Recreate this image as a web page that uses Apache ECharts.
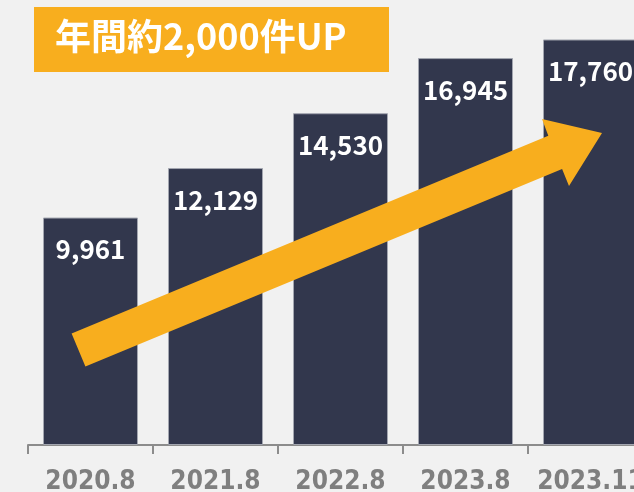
<!DOCTYPE html>
<html>
<head>
<meta charset="utf-8">
<script src="https://cdn.jsdelivr.net/npm/echarts@6/dist/echarts.min.js"></script>
<style>
  html, body { margin: 0; padding: 0; background: #f1f1f1; }
  #chart { width: 634px; height: 492px; }
</style>
</head>
<body>
<div id="chart"></div>
<script>
const periods = ['2020.8', '2021.8', '2022.8', '2023.8', '2023.11']
const counts = [9961, 12129, 14530, 16945, 17760]
const headline = '年間約2,000件UP'

const chart = echarts.init(document.getElementById('chart'))

// arrow outline (decoration only, not data)
const arrowPoints = [
  [71.6, 333.4], [548.3, 135.8], [542, 119], [602, 133],
  [569, 186], [562.1, 169], [85.4, 366.6]
]

chart.setOption({
  backgroundColor: '#f1f1f1',
  animation: false,
  grid: { left: 28, top: 34, width: 625, bottom: 47, outerBoundsMode: 'none', containLabel: false },
  xAxis: {
    type: 'category',
    data: periods,
    axisLine: { lineStyle: { color: '#8c8c8c', width: 2 } },
    axisTick: { show: true, length: 9, lineStyle: { color: '#8c8c8c', width: 2 } },
    axisLabel: {
      interval: 0,
      hideOverlap: false,
      color: '#7f7f7f',
      fontSize: 26,
      fontWeight: 'bold',
      fontFamily: "'DejaVu Sans Condensed', 'Liberation Sans Narrow', sans-serif",
      margin: 24
    }
  },
  yAxis: {
    type: 'value',
    min: 0,
    max: 18000,
    show: false
  },
  series: [
    {
      type: 'bar',
      data: counts,
      barWidth: 95,
      itemStyle: { color: '#32374d', borderColor: '#a3a6b0', borderWidth: 1 },
      label: {
        show: true,
        position: 'insideTop',
        distance: 19,
        color: '#ffffff',
        fontSize: 26,
        fontWeight: 'bold',
        fontFamily: "'Noto Sans CJK JP', sans-serif",
        formatter: p => p.value.toLocaleString('en-US')
      }
    }
  ],
  graphic: [
    {
      type: 'polygon',
      z: 100,
      shape: { points: arrowPoints },
      style: { fill: '#f8ae1e' }
    },
    {
      type: 'rect',
      left: 34,
      top: 7,
      z: 100,
      shape: { width: 355, height: 65 },
      style: { fill: '#f8ae1e' }
    },
    {
      type: 'text',
      left: 55,
      top: 18,
      z: 101,
      style: {
        text: headline,
        fill: '#ffffff',
        font: "bold 36px 'Noto Sans CJK JP', sans-serif"
      }
    }
  ]
})
</script>
</body>
</html>
